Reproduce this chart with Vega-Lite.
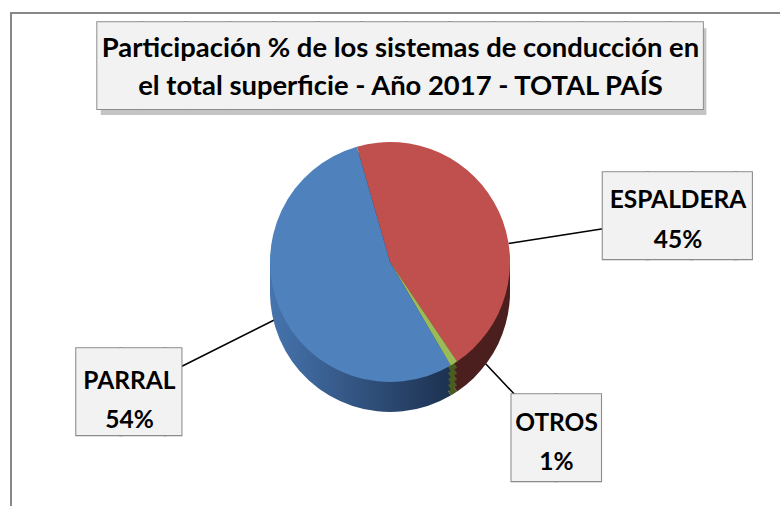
{
  "$schema": "https://vega.github.io/schema/vega-lite/v6.json",
  "background": "white",
  "autosize": {"type": "none"},
  "width": 769,
  "height": 493,
  "padding": {"left": 11, "top": 13, "right": 0, "bottom": 0},
  "view": {"stroke": "#888888", "strokeWidth": 2, "strokeDash": [769, 1262, 493]},
  "datasets": {
    "sistemas": [
      {"sistema": "ESPALDERA", "participacion": 0.45},
      {"sistema": "OTROS", "participacion": 0.01},
      {"sistema": "PARRAL", "participacion": 0.54}
    ]
  },
  "layer": [
    {
      "data": {"values": [{}]},
      "layer": [
        {"mark": {"type": "text", "text": "█████████████▊", "font": "DejaVu Sans Mono", "fontSize": 73, "align": "center", "baseline": "middle", "dx": 14, "dy": -185, "fill": "#C4C4C4"}},
        {"mark": {"type": "text", "text": "█████████████▊", "font": "DejaVu Sans Mono", "fontSize": 73, "align": "center", "baseline": "middle", "dx": 10.5, "dy": -190.6, "fill": "#8C8C8C", "stroke": "#8C8C8C", "strokeWidth": 2}},
        {"mark": {"type": "text", "text": "█████████████▊", "font": "DejaVu Sans Mono", "fontSize": 73, "align": "center", "baseline": "middle", "dx": 10.5, "dy": -190.6, "fill": "#F2F2F2"}},
        {"mark": {"type": "text", "text": "Participación % de los sistemas de conducción en", "font": "Lato", "fontWeight": "bold", "fontSize": 27.4, "baseline": "alphabetic", "align": "center", "dx": 5, "dy": -202.5, "color": "#000000"}},
        {"mark": {"type": "text", "text": "el total superficie - Año 2017 - TOTAL PAÍS", "font": "Lato", "fontWeight": "bold", "fontSize": 27.4, "baseline": "alphabetic", "align": "center", "dx": 5, "dy": -164.5, "color": "#000000"}}
      ]
    },
    {
      "data": {"name": "sistemas"},
      "transform": [
        {"stack": "participacion", "groupby": [], "sort": [{"field": "sistema", "order": "ascending"}], "as": ["inicio", "fin"]}
      ],
      "encoding": {
        "theta": {"field": "inicio", "type": "quantitative", "scale": {"domain": [0, 1], "range": [-0.2793, 6.0039]}}
      },
      "layer": [
        {"transform": [{"filter": "datum.sistema === 'ESPALDERA'"}],
         "mark": {"type": "arc", "innerRadius": 120, "outerRadius": 215.6, "thetaOffset": 1.6951, "theta2Offset": 1.6951, "stroke": "#000000", "strokeWidth": 1.5, "fill": "transparent", "xOffset": -5.5, "yOffset": 2.5},
         "encoding": {"theta2": {"field": "inicio"}}},
        {"transform": [{"filter": "datum.sistema === 'PARRAL'"}],
         "mark": {"type": "arc", "innerRadius": 120, "outerRadius": 232.7, "thetaOffset": 1.637, "theta2Offset": 1.637, "stroke": "#000000", "strokeWidth": 1.5, "fill": "transparent", "xOffset": -5.5, "yOffset": 2.5},
         "encoding": {"theta2": {"field": "inicio"}}},
        {"transform": [{"filter": "datum.sistema === 'OTROS'"}],
         "mark": {"type": "arc", "innerRadius": 120, "outerRadius": 184, "thetaOffset": -0.1614, "theta2Offset": -0.1614, "stroke": "#000000", "strokeWidth": 1.5, "fill": "transparent", "xOffset": -5.5, "yOffset": 2.5},
         "encoding": {"theta2": {"field": "inicio"}}},

        {"transform": [{"filter": "datum.sistema !== 'PARRAL'"}],
         "mark": {"type": "arc", "outerRadius": 120, "xOffset": -5.5, "yOffset": 32.5},
         "encoding": {"theta2": {"field": "fin"}, "fill": {"field": "sistema", "type": "nominal", "legend": null,
           "scale": {"domain": ["ESPALDERA", "OTROS"], "range": ["#4C1F1F", "#4A5C22"]}}}},
        {"transform": [{"filter": "datum.sistema === 'PARRAL'"}],
         "mark": {"type": "arc", "outerRadius": 120, "xOffset": -5.5, "yOffset": 32.5,
           "fill": {"gradient": "linear", "x1": 0, "y1": 0, "x2": 1, "y2": 0, "stops": [{"offset": 0, "color": "#4674AE"}, {"offset": 1, "color": "#1D3150"}]}},
         "encoding": {"theta2": {"field": "fin"}}},
        {"transform": [{"filter": "datum.sistema !== 'PARRAL'"}],
         "mark": {"type": "arc", "outerRadius": 120, "xOffset": -5.5, "yOffset": 26.5},
         "encoding": {"theta2": {"field": "fin"}, "fill": {"field": "sistema", "type": "nominal", "legend": null}}},
        {"transform": [{"filter": "datum.sistema === 'PARRAL'"}],
         "mark": {"type": "arc", "outerRadius": 120, "xOffset": -5.5, "yOffset": 26.5,
           "fill": {"gradient": "linear", "x1": 0, "y1": 0, "x2": 1, "y2": 0, "stops": [{"offset": 0, "color": "#4674AE"}, {"offset": 1, "color": "#1D3150"}]}},
         "encoding": {"theta2": {"field": "fin"}}},
        {"transform": [{"filter": "datum.sistema !== 'PARRAL'"}],
         "mark": {"type": "arc", "outerRadius": 120, "xOffset": -5.5, "yOffset": 20.5},
         "encoding": {"theta2": {"field": "fin"}, "fill": {"field": "sistema", "type": "nominal", "legend": null}}},
        {"transform": [{"filter": "datum.sistema === 'PARRAL'"}],
         "mark": {"type": "arc", "outerRadius": 120, "xOffset": -5.5, "yOffset": 20.5,
           "fill": {"gradient": "linear", "x1": 0, "y1": 0, "x2": 1, "y2": 0, "stops": [{"offset": 0, "color": "#4674AE"}, {"offset": 1, "color": "#1D3150"}]}},
         "encoding": {"theta2": {"field": "fin"}}},
        {"transform": [{"filter": "datum.sistema !== 'PARRAL'"}],
         "mark": {"type": "arc", "outerRadius": 120, "xOffset": -5.5, "yOffset": 14.5},
         "encoding": {"theta2": {"field": "fin"}, "fill": {"field": "sistema", "type": "nominal", "legend": null}}},
        {"transform": [{"filter": "datum.sistema === 'PARRAL'"}],
         "mark": {"type": "arc", "outerRadius": 120, "xOffset": -5.5, "yOffset": 14.5,
           "fill": {"gradient": "linear", "x1": 0, "y1": 0, "x2": 1, "y2": 0, "stops": [{"offset": 0, "color": "#4674AE"}, {"offset": 1, "color": "#1D3150"}]}},
         "encoding": {"theta2": {"field": "fin"}}},
        {"transform": [{"filter": "datum.sistema !== 'PARRAL'"}],
         "mark": {"type": "arc", "outerRadius": 120, "xOffset": -5.5, "yOffset": 8.5},
         "encoding": {"theta2": {"field": "fin"}, "fill": {"field": "sistema", "type": "nominal", "legend": null}}},
        {"transform": [{"filter": "datum.sistema === 'PARRAL'"}],
         "mark": {"type": "arc", "outerRadius": 120, "xOffset": -5.5, "yOffset": 8.5,
           "fill": {"gradient": "linear", "x1": 0, "y1": 0, "x2": 1, "y2": 0, "stops": [{"offset": 0, "color": "#4674AE"}, {"offset": 1, "color": "#1D3150"}]}},
         "encoding": {"theta2": {"field": "fin"}}},

        {"mark": {"type": "arc", "outerRadius": 120, "xOffset": -5.5, "yOffset": 2.5},
         "encoding": {"theta2": {"field": "fin"}, "color": {"field": "sistema", "type": "nominal", "legend": null,
           "scale": {"domain": ["ESPALDERA", "OTROS", "PARRAL"], "range": ["#C0504D", "#9BBB59", "#4F81BD"]}}}},

        {"transform": [{"filter": "datum.sistema === 'ESPALDERA'"}],
         "layer": [
           {"mark": {"type": "text", "text": "███▍", "font": "DejaVu Sans Mono", "fontSize": 73, "align": "center", "baseline": "middle", "radius": 291.5, "thetaOffset": 1.6951, "dx": 13.7, "dy": 2.4, "fill": "#8C8C8C", "stroke": "#8C8C8C", "strokeWidth": 2.2, "xOffset": -5.5, "yOffset": 2.5}},
           {"mark": {"type": "text", "text": "███▍", "font": "DejaVu Sans Mono", "fontSize": 73, "align": "center", "baseline": "middle", "radius": 291.5, "thetaOffset": 1.6951, "dx": 13.7, "dy": 2.4, "fill": "#F2F2F2", "xOffset": -5.5, "yOffset": 2.5}},
           {"mark": {"type": "text", "font": "Lato", "fontWeight": "bold", "fontSize": 24.5, "align": "center", "baseline": "alphabetic", "radius": 291.5, "thetaOffset": 1.6951, "dy": -9.2, "color": "#000000", "xOffset": -5.5, "yOffset": 2.5},
            "encoding": {"text": {"field": "sistema", "type": "nominal"}}},
           {"mark": {"type": "text", "font": "Lato", "fontWeight": "bold", "fontSize": 24.5, "align": "center", "baseline": "alphabetic", "radius": 291.5, "thetaOffset": 1.6951, "dy": 30.8, "color": "#000000", "xOffset": -5.5, "yOffset": 2.5},
            "encoding": {"text": {"field": "participacion", "type": "quantitative", "format": ".0%"}}}
         ]},
        {"transform": [{"filter": "datum.sistema === 'PARRAL'"}],
         "layer": [
           {"mark": {"type": "text", "text": "██▍", "font": "DejaVu Sans Mono", "fontSize": 73, "align": "center", "baseline": "middle", "radius": 291.4, "thetaOffset": 1.637, "dx": 13.7, "dy": 2.4, "fill": "#8C8C8C", "stroke": "#8C8C8C", "strokeWidth": 2.2, "xOffset": -5.5, "yOffset": 2.5}},
           {"mark": {"type": "text", "text": "██▍", "font": "DejaVu Sans Mono", "fontSize": 73, "align": "center", "baseline": "middle", "radius": 291.4, "thetaOffset": 1.637, "dx": 13.7, "dy": 2.4, "fill": "#F2F2F2", "xOffset": -5.5, "yOffset": 2.5}},
           {"mark": {"type": "text", "font": "Lato", "fontWeight": "bold", "fontSize": 24.5, "align": "center", "baseline": "alphabetic", "radius": 291.4, "thetaOffset": 1.637, "dy": -3.7, "color": "#000000", "xOffset": -5.5, "yOffset": 2.5},
            "encoding": {"text": {"field": "sistema", "type": "nominal"}}},
           {"mark": {"type": "text", "font": "Lato", "fontWeight": "bold", "fontSize": 24.5, "align": "center", "baseline": "alphabetic", "radius": 291.4, "thetaOffset": 1.637, "dy": 35.3, "color": "#000000", "xOffset": -5.5, "yOffset": 2.5},
            "encoding": {"text": {"field": "participacion", "type": "quantitative", "format": ".0%"}}}
         ]},
        {"transform": [{"filter": "datum.sistema === 'OTROS'"}],
         "layer": [
           {"mark": {"type": "text", "text": "██", "font": "DejaVu Sans Mono", "fontSize": 73, "align": "center", "baseline": "middle", "radius": 243, "thetaOffset": -0.1614, "dx": 0, "dy": 2.4, "fill": "#8C8C8C", "stroke": "#8C8C8C", "strokeWidth": 2.2, "xOffset": -5.5, "yOffset": 2.5}},
           {"mark": {"type": "text", "text": "██", "font": "DejaVu Sans Mono", "fontSize": 73, "align": "center", "baseline": "middle", "radius": 243, "thetaOffset": -0.1614, "dx": 0, "dy": 2.4, "fill": "#F2F2F2", "xOffset": -5.5, "yOffset": 2.5}},
           {"mark": {"type": "text", "font": "Lato", "fontWeight": "bold", "fontSize": 24.5, "align": "center", "baseline": "alphabetic", "radius": 243, "thetaOffset": -0.1614, "dy": -7.7, "color": "#000000", "xOffset": -5.5, "yOffset": 2.5},
            "encoding": {"text": {"field": "sistema", "type": "nominal"}}},
           {"mark": {"type": "text", "font": "Lato", "fontWeight": "bold", "fontSize": 24.5, "align": "center", "baseline": "alphabetic", "radius": 243, "thetaOffset": -0.1614, "dy": 30.8, "color": "#000000", "xOffset": -5.5, "yOffset": 2.5},
            "encoding": {"text": {"field": "participacion", "type": "quantitative", "format": ".0%"}}}
         ]}
      ]
    }
  ]
}
